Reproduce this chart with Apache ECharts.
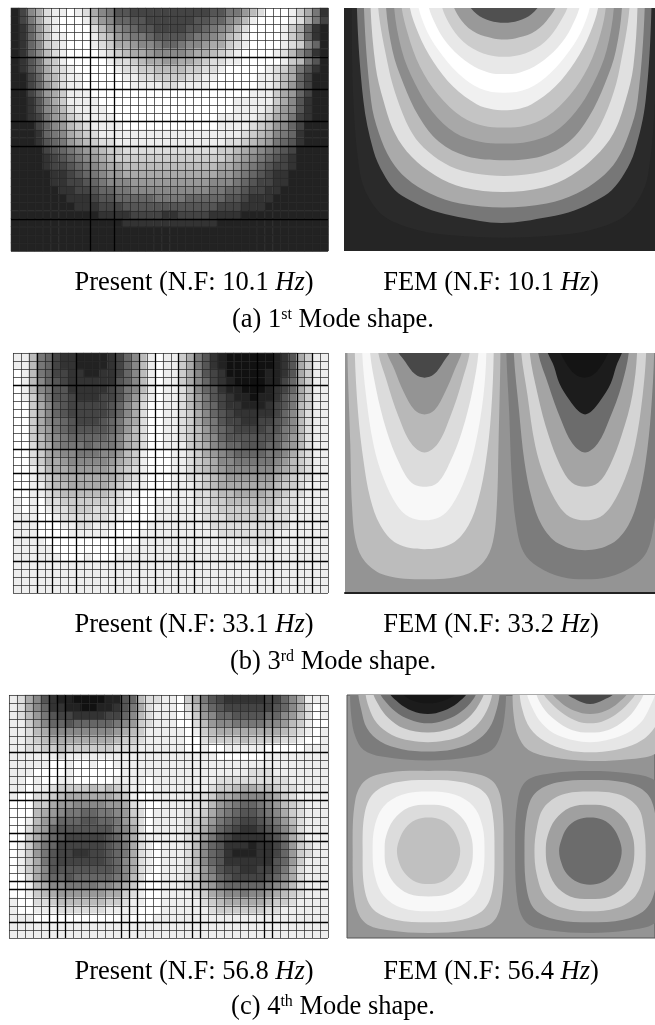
<!DOCTYPE html>
<html><head><meta charset="utf-8">
<style>html,body{margin:0;padding:0;background:#fff}#c{width:655px;height:1025px}</style>
<script src="https://cdn.jsdelivr.net/npm/echarts@6/dist/echarts.min.js"></script>
</head><body><div id="c"></div>
<script>
// Present-method cell shades: one hex digit per cell (0 black .. f white), 40 columns x 30 rows
const present1 = [
"248adeefeda8755444444444455779bdfffeca73",
"247adefffeb98665544444455668 9beffffeda74".replace(' ',''),
"2369ceffffdb9876554444556789bdffffeca632",
"2369ceefffecb98776555567789bceffffeca632",
"2368cdefffedcaa9887667889aacdeffffedc862",
"2368bdeffffedcbaa988889aabcdeffffedb8632",
"2357bcefffffeddcbaa99aabcddeefffffecb752",
"2357acdefffffeddccbbbbccddefffffedca7532",
"2246abdeefffffeeddccccddeefffffeedba6422",
"22469bdeeffffffeeeeddeeeeffffffeedb96422",
"22469aceeeffffffffffffffffffffeeeca96422",
"22358aceeeefffffffffffffffffeeeeeca85322",
"223589bdeeeeffffffffffffffffeeeedb985322",
"223479acdeeeefffffffffffffeeeeedca974322",
"2224689bcdeeeeffffffffffffeeeedcb9864222",
"2223678abcdeeeeeeeeeeeeeeeeeedcba8763222",
"22235679abcddeeeeeeeeeeeeeeddcba97653222",
"2222456789abccddddddddddddccba9876542222",
"22223456789abccccccccccccccba98765432222",
"222234456789aabbbbbbbbbbbbaa987654432222",
"22222334567899aaaaaaaaaaaa99876543322222",
"2222233445678889999999999888765443322222",
"2222223344566778888888888776654433222222",
"2222222333455666667777666665543332222222",
"2222222233344455555555555544433322222222",
"2222222222233334444334444333322222222222",
"2222222222222233333333333322222222222222",
"2222222222222222222222222222222222222222",
"2222222222222222222222222222222222222222",
"2222222222222222222222222222222222222222"
];
const present2 = [
"eeb7643322223468befeeca7532111111235acee",
"eeb7643322223468befeeca7532111111235acee",
"feb7644332233468befeeca8543111112235acee",
"feb8654333333568befeeca8643211112246acee",
"feb8755333334578befeedb8653221112346acee",
"fec9755433344579cefeedb9754322122357acee",
"ffca86544444568adffeedb9764332223457bcee",
"ffca86544444568adffeedca865433333468bdee",
"ffca87654445679adffeedca875443344568bdee",
"ffca97655555679bdffeedcb976544445578bdee",
"ffcb9876666678abdffeedcb986555555679bdee",
"ffdba877767778abdffeeecba87665556689bdee",
"ffdca988777889bcefffeedca9876666778acdee",
"ffdcaa9888889abcefffeedcba887777789bcdee",
"ffedbaa99999abcdefffeedcba98888889abcdee",
"ffedcbaaaaaaabcdefffeeddcba999999abcddee",
"ffeecbbaaaaabcdeefffeeedcbaaaaaaabccdeee",
"ffeedcbbbbbbcdeeffffeeeddcbbaaaabbcddeee",
"efefddccccccddefffeeeeeddccbbbbbbcddeeee",
"efefeddcccdddeefffeeeeeeddcccccccdddeeee",
"eeeffeddddddeeffffeeeeeedddcccccdddeeeee",
"eeefffeeddeeeffffeeeeeeeeddddddddddeeeee",
"eeeffffeeeeeffffeeeeeeeeeedddddddeeeeeee",
"eeeeffffffffffffeeeeeeeeeeeeeddddeeeeeee",
"eeeeefffffffffeeeeeeeeeeeeeeeeeeeeeeeeee",
"eeeeeefffefffeeeeeeeeeeeeeeeeeeeeeeeeeee",
"eeeeeeeeeeeeeeeeeeeeeeeeeeeeeeeeeeeeeeee",
"eeeeeeeeeeeeeeeeeeeeeeeeeeeeeeeeeeeeeeee",
"eeeeeeeeeeeeeeeeeeeeeeeeeeeeeeeeeeeeeeee",
"eeeeeeeeeeeeeeeeeeeeeeeeeeeeeeeeeeeeeeee"
];
const present3 = [
"eda8532211112256bddeefca754333334468aeee",
"eda8633221122357adeeefdb865444444568adfe",
"edb9754433334468bdeeefec986655556689bdfe",
"eeca866566666789cdeeeffdb9887777889bceff",
"eedba888888889abceeeeefecbaaaaaaaabcdefe",
"eedcbaaaaaaaabccdeeeeeffdccccbccccddeffe",
"eeddccbccccccdddeeeeeeffeffeeeeefffffeee",
"eeeeeedeeeeeeeeeeeeeeeeeeeffffffeeeeeeee",
"eeeeeffeffeffeeeeeeeeeeeeeeeeeeeeeeeeeee",
"eeeffffeffffffeeeeeeeeeeeeeeeedddeeeeeee",
"eefeffeefffffeeeefeeeeeeeedddddddddeeeee",
"eefeedccccbcbcdeefeeeeeeedccbaabbcddeeee",
"effddcbaaaaaabceffeeeeeddcaa98889acdeeee",
"fffcca99888899adeffeeeeddb98766789bcdeee",
"fffba9877667789cdfeeeeddca87655678acdeee",
"ffeb98666556679bdfeeeedcb9765445679bdeee",
"ffda96555555578adfeeeedca8654334568adeee",
"ffca86544444568adeeeeedc97543333457aceee",
"fec976444444567adefeeedb865333233469cdee",
"fec975443344567adefeeedb865322233469cdee",
"feca75444444568adefeeedb865333333569ceee",
"feca85555555568adefeeedc97544334457adeee",
"ffda86656666678bdffeeedc98654444568adeee",
"ffeba887777889aceffeeedca9766666789bdeee",
"ffecba999999aacdeffeeeedca9887889abcdeee",
"effddcbbbbbbccdeeffeeeeedcbaaaaabccdeeee",
"effeeeddddddeeeefffeeeeeedccccccddeeeeee",
"eeefffffffffffefffeeeeeeeeeeeeeeeeeeeeee",
"eeeeeeeeeeeeeeeeeeeeeeeeeeeeeeeeeeeeeeee",
"eeeeeeeeeeeeeeeeeeeeeeeeeeeeeeeeeeeeeeee"
];
// Grid-line indices drawn heavier on each present-method panel
const strongRows1 = [6,10,14,17,26], strongCols1 = [10,13];
const strongRows2 = [4,12,15,17,21,23,26], strongCols2 = [3,5,8,13,16,18,21,23,31,33,36,38];
const strongRows3 = [7,12,13,17,18,23,24,28], strongCols3 = [5,6,7,14,15,16,23,24,32,33];

// FEM contour bands: grey level of each band, then its outline in plate coordinates
const fem1Back = 37, fem2Back = 148, fem3Back = 148;
const fem1Levels = [42,119,170,224,187,140,168,196,240,255,232,204,153,80];
const fem1Bands = [
[[50,0],[55,300],[75,520],[100,590],[150,650],[250,690],[350,705],[508,712],[665,705],[765,690],[865,650],[915,590],[940,520],[960,300],[965,0]],
[[65,0],[85,300],[115,450],[145,520],[180,570],[225,600],[290,630],[370,650],[500,668],[640,650],[720,630],[785,600],[830,570],[868,520],[900,450],[932,300],[950,0]],
[[86,0],[108,300],[132,400],[168,480],[215,535],[285,580],[375,610],[505,622],[635,610],[725,580],[795,535],[845,480],[882,400],[908,300],[930,0]],
[[106,0],[122,200],[145,300],[180,400],[230,470],[300,525],[385,562],[505,575],[625,562],[710,525],[780,470],[835,400],[872,300],[895,200],[908,0]],
[[128,0],[160,200],[188,300],[232,400],[280,455],[345,498],[420,520],[507,527],[595,520],[670,498],[735,455],[782,400],[828,300],[855,200],[885,0]],
[[152,0],[172,150],[205,250],[252,350],[312,425],[395,468],[507,480],[620,468],[702,425],[762,350],[810,250],[843,150],[862,0]],
[[176,0],[200,150],[240,250],[292,335],[360,398],[435,425],[507,430],[580,425],[655,398],[722,335],[775,250],[815,150],[838,0]],
[[198,0],[218,100],[255,200],[310,285],[380,350],[445,377],[507,382],[570,377],[635,350],[705,285],[760,200],[797,100],[814,0]],
[[222,0],[250,100],[295,185],[355,260],[425,312],[475,328],[507,330],[540,328],[590,312],[660,260],[720,185],[765,100],[792,0]],
[[248,0],[270,80],[310,150],[370,220],[435,265],[507,278],[580,265],[645,220],[705,150],[745,80],[767,0]],
[[278,0],[305,80],[345,140],[405,192],[460,217],[507,222],[555,217],[610,192],[670,140],[710,80],[737,0]],
[[318,0],[342,70],[385,125],[445,160],[507,170],[570,160],[630,125],[673,70],[702,0]],
[[352,0],[380,62],[425,100],[475,115],[508,118],[540,115],[590,100],[635,62],[668,0]],
[[397,0],[425,42],[465,62],[508,68],[550,62],[590,42],[618,0]]
];
const fem2Levels = [188,230,248,220,184,148,72, 124,170,212,164,108,28,20];
const fem2Bands = [
[[36,0],[45,300],[50,480],[62,590],[90,650],[150,690],[268,702],[385,690],[445,650],[473,590],[485,480],[490,300],[496,0]],
[[58,0],[68,200],[85,350],[105,460],[135,540],[185,595],[268,612],[350,595],[400,540],[430,460],[452,350],[468,200],[476,0]],
[[80,0],[92,150],[115,300],[145,400],[185,480],[222,515],[268,525],[314,515],[350,480],[390,400],[420,300],[445,150],[454,0]],
[[103,0],[122,130],[155,260],[190,350],[228,412],[268,425],[308,412],[345,350],[380,260],[413,130],[431,0]],
[[126,0],[155,110],[190,215],[228,295],[268,322],[308,295],[345,215],[380,110],[406,0]],
[[150,0],[178,75],[205,140],[238,195],[268,208],[298,195],[330,140],[358,75],[384,0]],
[[180,0],[210,50],[240,88],[268,98],[296,88],[325,50],[352,0]],
[[513,0],[522,200],[530,400],[542,530],[565,620],[610,665],[680,695],[750,702],[820,695],[890,665],[935,620],[958,530],[970,400],[978,200],[985,0]],
[[535,0],[552,200],[568,350],[590,460],[620,540],[670,595],[750,615],[830,595],[880,540],[910,460],[932,350],[948,200],[958,0]],
[[557,0],[577,150],[600,300],[630,400],[670,480],[705,515],[750,525],[795,515],[830,480],[870,400],[900,300],[923,150],[934,0]],
[[582,0],[608,150],[640,270],[675,360],[710,412],[750,425],[790,412],[825,360],[860,270],[892,150],[907,0]],
[[606,0],[640,120],[678,225],[712,295],[750,322],[788,295],[822,225],[860,120],[883,0]],
[[632,0],[657,65],[673,115],[703,165],[730,198],[750,208],[770,198],[797,165],[827,115],[843,65],[866,0]],
[[670,0],[690,50],[720,88],[748,98],[776,88],[806,50],[825,0]]
];
const fem3Levels = [124,170,216,160,108,28,22, 188,230,248,220,184,148,72, 188,230,248,220,192, 124,170,212,160,108];
const fem3Bands = [
[[44,0],[48,80],[60,140],[85,180],[140,200],[278,212],[415,200],[470,180],[495,140],[508,80],[513,0]],
[[68,0],[78,60],[95,115],[135,155],[200,178],[278,185],[355,178],[420,155],[462,115],[484,60],[494,0]],
[[90,0],[100,50],[125,100],[170,135],[225,152],[278,157],[330,152],[385,135],[430,100],[460,50],[472,0]],
[[112,0],[130,45],[160,85],[205,115],[278,128],[350,115],[398,85],[430,45],[448,0]],
[[132,0],[155,40],[190,72],[235,93],[278,100],[322,93],[368,72],[405,40],[425,0]],
[[160,0],[190,38],[230,62],[278,72],[325,62],[368,38],[398,0]],
[[198,0],[228,30],[278,40],[330,30],[368,0]],
[[532,0],[536,80],[550,140],[580,180],[650,202],[765,213],[880,208],[960,192],[1010,140],[1020,0]],
[[553,0],[562,60],[585,115],[630,155],[695,180],[765,187],[840,180],[905,160],[950,125],[985,60],[990,0]],
[[574,0],[590,50],[620,100],[670,137],[765,157],[860,137],[915,100],[945,50],[962,0]],
[[602,0],[622,50],[660,90],[710,120],[765,128],[820,120],[870,90],[905,50],[928,0]],
[[622,0],[648,40],[690,75],[730,95],[765,100],[800,95],[840,75],[880,40],[904,0]],
[[648,0],[678,38],[718,62],[765,72],[812,62],[850,38],[880,0]],
[[690,0],[725,30],[765,42],[805,30],[842,0]],
[[280,243],[400,248],[470,272],[498,330],[505,483],[498,640],[470,700],[400,722],[280,730],[160,722],[90,700],[60,640],[52,483],[60,330],[90,272],[160,248]],
[[280,270],[385,278],[450,310],[472,370],[478,483],[472,600],[445,660],[380,690],[280,698],[180,690],[115,660],[88,600],[82,483],[88,370],[115,310],[180,278]],
[[280,305],[360,315],[415,350],[442,410],[448,483],[442,555],[415,618],[360,655],[280,665],[200,655],[145,618],[118,555],[112,483],[118,410],[145,350],[200,315]],
[[280,345],[340,353],[385,390],[408,440],[413,483],[408,530],[385,578],[340,612],[280,620],[220,612],[175,578],[152,530],[148,483],[152,440],[175,390],[220,353]],
[[280,383],[318,390],[350,415],[368,450],[375,483],[368,520],[350,552],[318,577],[280,583],[242,577],[210,552],[192,520],[185,483],[192,450],[210,415],[242,390]],
[[765,243],[880,250],[960,272],[990,330],[995,483],[990,640],[960,700],[880,722],[765,730],[640,722],[575,700],[548,640],[540,483],[548,330],[575,272],[650,250]],
[[765,270],[870,278],[935,310],[960,370],[965,483],[960,600],[930,660],[865,690],[765,698],[665,690],[600,660],[575,600],[568,483],[575,370],[600,310],[665,278]],
[[765,305],[855,315],[910,355],[927,415],[932,483],[927,555],[900,620],[845,655],[765,665],[685,655],[630,620],[605,555],[598,483],[605,415],[625,355],[680,315]],
[[765,345],[825,353],[870,390],[893,440],[898,483],[893,530],[870,585],[825,620],[765,628],[705,620],[660,585],[637,530],[632,483],[637,440],[660,390],[705,353]],
[[765,383],[803,390],[835,415],[853,450],[860,483],[853,520],[835,552],[803,577],[765,585],[727,577],[695,552],[679,520],[672,483],[679,450],[695,415],[727,390]]
];
// Captions
const captionsPresent = ["Present (N.F: 10.1 {i|Hz})","Present (N.F: 33.1 {i|Hz})","Present (N.F: 56.8 {i|Hz})"];
const captionsFem = ["FEM (N.F: 10.1 {i|Hz})","FEM (N.F: 33.2 {i|Hz})","FEM (N.F: 56.4 {i|Hz})"];
const captionsMode = ["(a) 1{s|st} Mode shape.","(b) 3{s|rd} Mode shape.","(c) 4{s|th} Mode shape."];

const SERIF = '"Liberation Serif","Times New Roman",serif';
const colCats = Array.from({length:40},(_,i)=>i);
const rowCats = Array.from({length:30},(_,i)=>i);
const option = {animation:false,backgroundColor:'#fff',grid:[],xAxis:[],yAxis:[],series:[],title:[],
  visualMap:{show:false,type:'continuous',min:0,max:15,seriesIndex:[],inRange:{color:['#000000','#ffffff']}}};

function hidden(o){return Object.assign({show:false},o);}
function addAxes(gridIndex,x,y){
  option.xAxis.push(hidden(Object.assign({gridIndex},x)));
  option.yAxis.push(hidden(Object.assign({gridIndex},y)));
  return option.xAxis.length-1;
}
function addLines(idx,list,vertical,stroke,width){
  option.series.push({type:'custom',coordinateSystem:'cartesian2d',xAxisIndex:idx,yAxisIndex:idx,silent:true,
    data:list.map(v=>[v,0]),
    renderItem(params,api){
      const v=api.value(0);
      const a=api.coord(vertical?[v,0]:[0,v]), b=api.coord(vertical?[v,30]:[40,v]);
      const ax=Math.round(a[0])+.5, ay=Math.round(a[1])+.5;
      return {type:'line',shape:vertical?{x1:ax,y1:a[1],x2:ax,y2:b[1]}:{x1:a[0],y1:ay,x2:b[0],y2:ay},style:{stroke,lineWidth:width}};
    }});
}
function addPresent(rows,strongRows,strongCols,box){
  const g=option.grid.length;
  option.grid.push(Object.assign({containLabel:false},box));
  const h=addAxes(g,{type:'category',data:colCats},{type:'category',data:rowCats,inverse:true});
  const v=addAxes(g,{type:'value',min:0,max:40},{type:'value',min:0,max:30,inverse:true});
  const data=[];
  rows.forEach((r,j)=>{const s=r.padEnd(40,r[r.length-1]);for(let i=0;i<40;i++)data.push([i,j,parseInt(s[i],16)]);});
  option.visualMap.seriesIndex.push(option.series.length);
  option.series.push({type:'heatmap',xAxisIndex:h,yAxisIndex:h,data,silent:true,itemStyle:{borderWidth:0}});
  addLines(v,[...Array(41).keys()],true,'rgba(40,40,40,0.72)',1);
  addLines(v,[...Array(31).keys()],false,'rgba(40,40,40,0.72)',1);
  addLines(v,strongCols,true,'#000',1.3);
  addLines(v,strongRows,false,'#000',1.3);
}
function addFem(levels,bands,back,box,xr,yr,border,bottomLine){
  const g=option.grid.length;
  option.grid.push(Object.assign({show:true,backgroundColor:`rgb(${back},${back},${back})`,
    borderWidth:border?1:0,borderColor:'#555',z:0},box));
  const xExtra=bottomLine?{show:true,axisLabel:{show:false},axisTick:{show:false},splitLine:{show:false},
    axisLine:{show:true,onZero:false,lineStyle:{color:'#222',width:2}}}:{};
  const idx=addAxes(g,Object.assign({type:'value',min:xr[0],max:xr[1]},xExtra),{type:'value',min:yr[0],max:yr[1],inverse:true});
  bands.forEach((pts,k)=>{
    const c=levels[k];
    // open outlines run off the top edge; carry them further up so the clip hides the closing edge
    const closed=pts[0][1]>0;
    const outline=closed?pts:[[pts[0][0],-400],...pts,[pts[pts.length-1][0],-400]];
    option.series.push({type:'custom',coordinateSystem:'cartesian2d',xAxisIndex:idx,yAxisIndex:idx,clip:true,silent:true,
      data:pts,
      renderItem(params,api){
        if(params.dataIndex!==0) return null;
        return {type:'polygon',shape:{points:outline.map(p=>api.coord(p)),smooth:0.35},
          style:{fill:`rgb(${c},${c},${c})`}};
      }});
  });
}
addPresent(present1,strongRows1,strongCols1,{left:11,top:8,width:317,height:243});
addFem(fem1Levels,fem1Bands,fem1Back,{left:344,top:8,width:311,height:243},[27,960],[24,752],false,false);
addPresent(present2,strongRows2,strongCols2,{left:13,top:353,width:315,height:240});
addFem(fem2Levels,fem2Bands,fem2Back,{left:345,top:353,width:310,height:240},[29,960],[24,743],false,true);
addPresent(present3,strongRows3,strongCols3,{left:9,top:695,width:319,height:243});
addFem(fem3Levels,fem3Bands,fem3Back,{left:347,top:695,width:308,height:243},[35,960],[15,745],true,false);

const FS=26.5;
const base={fontFamily:SERIF,fontSize:FS,fontWeight:'normal',color:'#000',
  rich:{i:{fontFamily:SERIF,fontSize:FS,fontStyle:'italic',color:'#000'},
        s:{fontFamily:SERIF,fontSize:16,color:'#000',verticalAlign:'top',lineHeight:FS}}};
const capY=[270,612,959], modeY=[307,649,994];
[0,1,2].forEach(k=>{
  option.title.push({text:captionsPresent[k],left:194,top:capY[k],textAlign:'center',textStyle:base,padding:0});
  option.title.push({text:captionsFem[k],left:491,top:capY[k],textAlign:'center',textStyle:base,padding:0});
  option.title.push({text:captionsMode[k],left:333,top:modeY[k],textAlign:'center',textStyle:base,padding:0});
});
echarts.init(document.getElementById('c'),null,{renderer:'canvas'}).setOption(option);
</script></body></html>
